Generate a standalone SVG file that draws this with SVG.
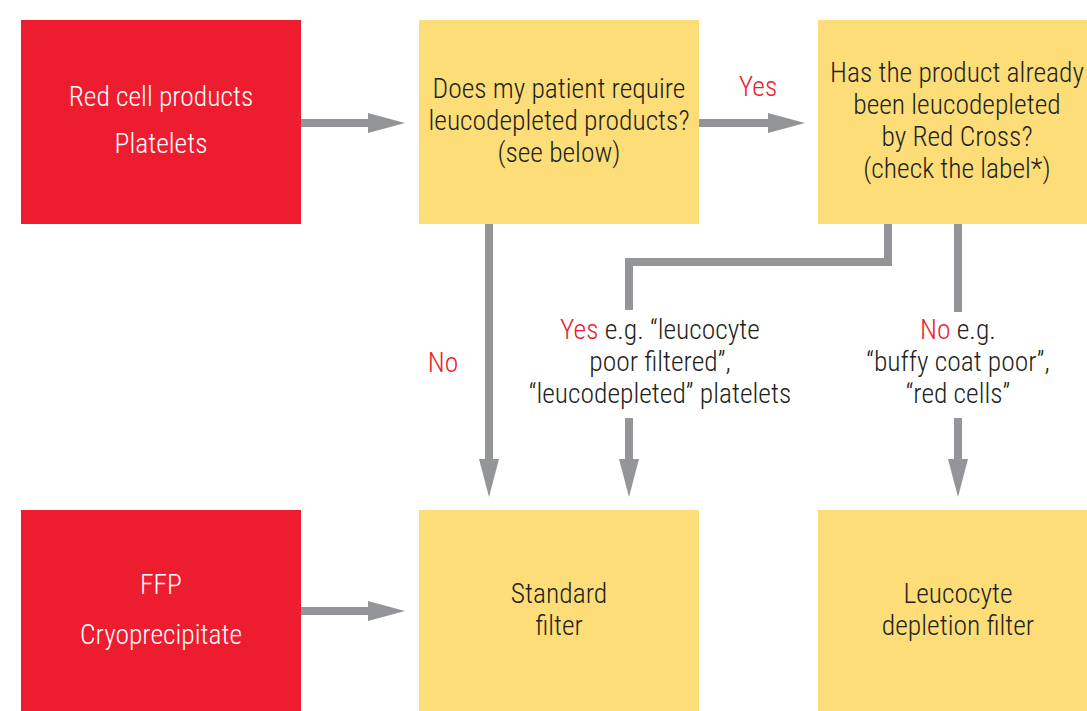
<svg xmlns="http://www.w3.org/2000/svg" width="1087" height="711" viewBox="0 0 1087 711">
<defs>
<style>
.red{fill:#ED1C2E}
.yel{fill:#FDDD77}
.t{font-family:"Roboto Condensed","Liberation Sans Narrow","Liberation Sans",sans-serif;font-size:27.5px;font-weight:300;text-anchor:middle;fill:#231F20}
.w{fill:#FFFFFF}
.r{fill:#ED1C2E}
.ln{stroke:#939598;stroke-width:8;fill:none}
.ah{fill:#939598}
</style>
</defs>
<g id="connectors">
<line class="ln" x1="301" y1="123" x2="372" y2="123"/>
<polygon class="ah" points="368,113 405,123 368,133"/>
<line class="ln" x1="699" y1="123" x2="772" y2="123"/>
<polygon class="ah" points="768,113 805,123 768,133"/>
<line class="ln" x1="301" y1="611" x2="372" y2="611"/>
<polygon class="ah" points="368,601 405,611 368,621"/>
<line class="ln" x1="489" y1="224" x2="489" y2="462"/>
<polygon class="ah" points="479,459 499,459 489,497"/>
<polyline class="ln" points="888,224 888,262 629,262 629,310"/>
<line class="ln" x1="629" y1="418" x2="629" y2="462"/>
<polygon class="ah" points="619,459 639,459 629,497"/>
<line class="ln" x1="958" y1="224" x2="958" y2="312"/>
<line class="ln" x1="958" y1="418" x2="958" y2="462"/>
<polygon class="ah" points="948,459 968,459 958,497"/>
<text class="t r" x="758" y="96">Yes</text>
<text class="t r" x="443" y="372">No</text>
<text class="t" x="660" y="339"><tspan class="r">Yes</tspan> e.g. “leucocyte</text>
<text class="t" x="660" y="371">poor filtered”,</text>
<text class="t" x="660" y="403">“leucodepleted” platelets</text>
<text class="t" x="958" y="339"><tspan class="r">No</tspan> e.g.</text>
<text class="t" x="958" y="371">“buffy coat poor”,</text>
<text class="t" x="958" y="403">“red cells”</text>
</g>
<g id="n1">
<rect class="red" x="21" y="20" width="280" height="204"/>
<text class="t w" x="161" y="106">Red cell products</text>
<text class="t w" x="161" y="153">Platelets</text>
</g>
<g id="n2">
<rect class="yel" x="419" y="20" width="280" height="204"/>
<text class="t" x="559" y="98">Does my patient require</text>
<text class="t" x="559" y="130">leucodepleted products?</text>
<text class="t" x="559" y="162">(see below)</text>
</g>
<g id="n3">
<rect class="yel" x="818" y="20" width="269" height="204"/>
<text class="t" x="957" y="82">Has the product already</text>
<text class="t" x="957" y="114">been leucodepleted</text>
<text class="t" x="957" y="146">by Red Cross?</text>
<text class="t" x="957" y="178">(check the label*)</text>
</g>
<g id="n4">
<rect class="red" x="21" y="510" width="280" height="201"/>
<text class="t w" x="161" y="594">FFP</text>
<text class="t w" x="161" y="644">Cryoprecipitate</text>
</g>
<g id="n5">
<rect class="yel" x="419" y="510" width="280" height="201"/>
<text class="t" x="559" y="603">Standard</text>
<text class="t" x="559" y="635">filter</text>
</g>
<g id="n6">
<rect class="yel" x="818" y="510" width="269" height="201"/>
<text class="t" x="958" y="603">Leucocyte</text>
<text class="t" x="958" y="635">depletion filter</text>
</g>
</svg>
